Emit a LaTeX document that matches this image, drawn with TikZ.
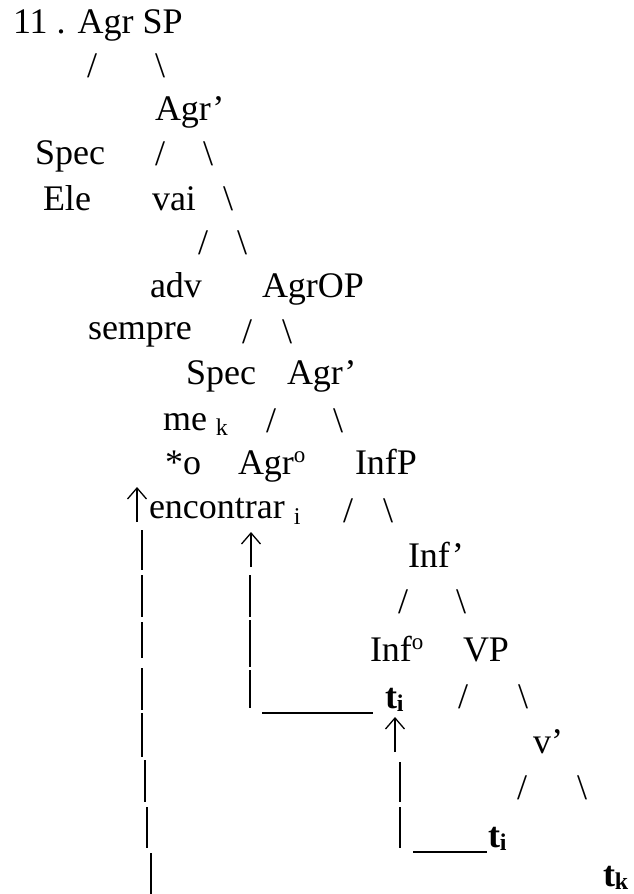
\documentclass[tikz,border=0pt]{standalone}
\usepackage{fontspec}
\setmainfont{Liberation Serif}
% lowered small index after a word or trace
\newcommand\lowidx[2]{\raisebox{-#1}{\fontsize{24}{26}\selectfont #2}}
% raised small "o" marking a head
\newcommand\headmark{\raisebox{12pt}{\fontsize{23}{23}\selectfont o}}
\begin{document}
\begin{tikzpicture}[x=1pt,y=-1pt,
  lbl/.style={anchor=base west, inner sep=0pt, outer sep=0pt,
              font=\fontsize{36}{40}\selectfont},
  trace/.style={lbl, font=\fontsize{36}{40}\selectfont\bfseries},
  bar/.style={line width=1.9pt},
  rule/.style={line width=1.3pt},
  uparrow/.style={line width=1.3pt}]
\useasboundingbox (0,0) rectangle (634,894);

% ---- tree, written line by line ----
\node[lbl] (root)   at (13,33)  {11 . Agr SP};
\node[lbl] (s1l)    at (87,77)  {/};
\node[lbl] (s1r)    at (155,77) {\textbackslash};
\node[lbl] (agrb)   at (155,120) {Agr’};
\node[lbl] (spec1)  at (35,164) {Spec};
\node[lbl] (s2l)    at (155,165) {/};
\node[lbl] (s2r)    at (203,165) {\textbackslash};
\node[lbl] (ele)    at (43,210) {Ele};
\node[lbl] (vai)    at (152,210) {vai};
\node[lbl] (s3r)    at (223,210) {\textbackslash};
\node[lbl] (s4l)    at (198,254) {/};
\node[lbl] (s4r)    at (237,254) {\textbackslash};
\node[lbl] (adv)    at (150,297) {adv};
\node[lbl] (agrop)  at (262,297) {AgrOP};
\node[lbl] (sempre) at (88,339) {sempre};
\node[lbl] (s5l)    at (242,343) {/};
\node[lbl] (s5r)    at (282,343) {\textbackslash};
\node[lbl] (spec2)  at (186,384) {Spec};
\node[lbl] (agrb2)  at (287,384) {Agr’};
\node[lbl] (me)     at (163,430) {me \lowidx{5pt}{k}};
\node[lbl] (s6l)    at (266,432) {/};
\node[lbl] (s6r)    at (333,432) {\textbackslash};
\node[lbl] (staro)  at (165,474) {*o};
\node[lbl] (agro)   at (238,474) {Agr\headmark};
\node[lbl] (infp)   at (355,474) {InfP};
\node[lbl] (encon)  at (149,518) {encontrar \lowidx{6pt}{i}};
\node[lbl] (s7l)    at (343,522) {/};
\node[lbl] (s7r)    at (383,522) {\textbackslash};
\node[lbl] (infb)   at (408,567) {Inf’};
\node[lbl] (s8l)    at (398,613) {/};
\node[lbl] (s8r)    at (456,613) {\textbackslash};
\node[lbl] (info)   at (370,661) {Inf\headmark};
\node[lbl] (vp)     at (463,661) {VP};
\node[trace] (ti1)  at (385,708) {t\lowidx{3pt}{\bfseries i}};
\node[lbl] (s9l)    at (458,708) {/};
\node[lbl] (s9r)    at (518,708) {\textbackslash};
\node[lbl] (vbar)   at (533,753) {v’};
\node[lbl] (s10l)   at (517,799) {/};
\node[lbl] (s10r)   at (577,799) {\textbackslash};
\node[trace] (ti2)  at (488,847) {t\lowidx{3pt}{\bfseries i}};
\node[trace] (tk)   at (603,886) {t\lowidx{3pt}{\bfseries k}};

% ---- movement arrows ----
\coordinate (tipA) at (137,488); \coordinate (tailA) at (137,522);
\coordinate (tipB) at (251,533); \coordinate (tailB) at (251,567);
\coordinate (tipC) at (395,718); \coordinate (tailC) at (395,752);
\foreach \t/\b in {tipA/tailA, tipB/tailB, tipC/tailC}{
  \draw[uparrow] (\b) -- (\t);
  \draw[uparrow] (\t) +(-9.5,11) -- (\t) -- +(9.5,11);
}

% broken vertical lines, built from short strokes
\foreach \x/\ya/\yb in {142/530/570, 142/575/617, 142/622/658, 142/668/710,
                        142/713/757, 145/760/802, 147/807/848, 151/853/894}
  \draw[bar] (\x,\ya) -- (\x,\yb);
\foreach \x/\ya/\yb in {250/575/617, 250/620/667, 250/670/708}
  \draw[bar] (\x,\ya) -- (\x,\yb);
\foreach \x/\ya/\yb in {400/762/802, 400/807/848}
  \draw[bar] (\x,\ya) -- (\x,\yb);

% horizontal rules leading to the traces
\coordinate (r1s) at (262,713); \coordinate (r1e) at (373,713);
\coordinate (r2s) at (413,852); \coordinate (r2e) at (487,852);
\draw[rule] (r1s) -- (r1e);
\draw[rule] (r2s) -- (r2e);
\end{tikzpicture}
\end{document}
